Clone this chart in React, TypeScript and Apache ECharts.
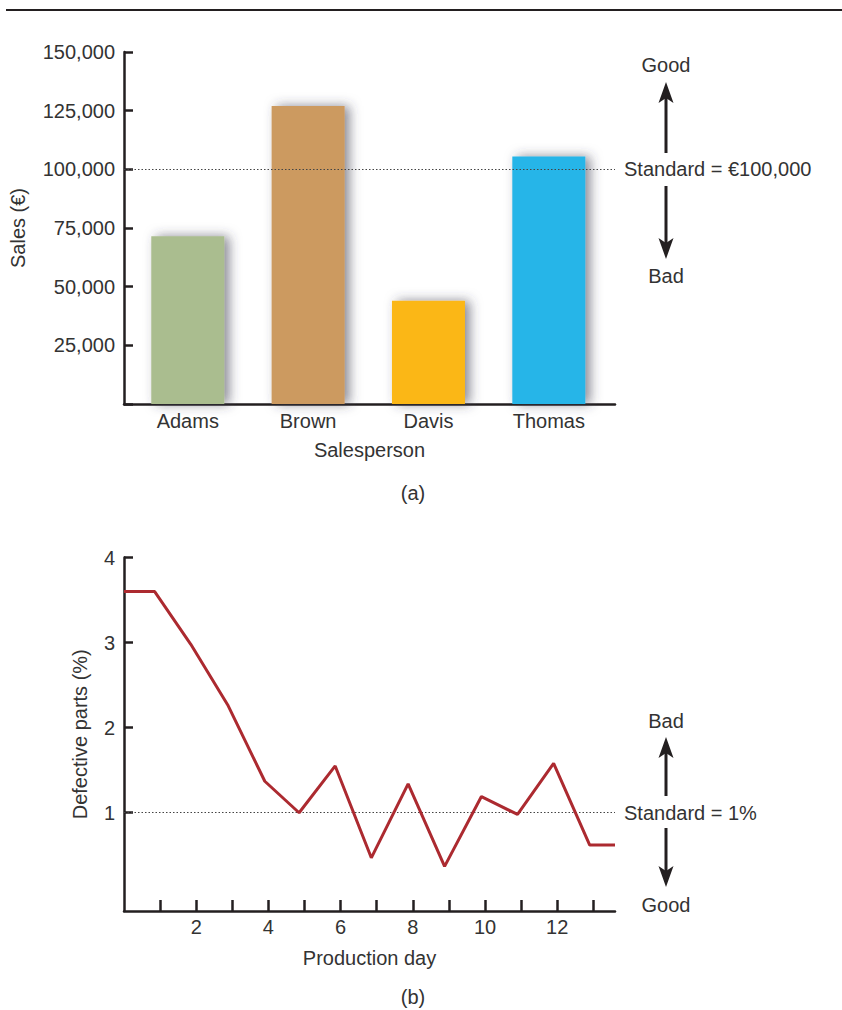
import React, { useEffect, useRef } from "react";
import * as echarts from "echarts";

// ---- Chart (a) data ----
const salespeople = ["Adams", "Brown", "Davis", "Thomas"];
const salesValues = [71500, 127000, 44000, 105500];
const barColors = ["#aabd8f", "#cc9a60", "#fbb717", "#26b5e8"];
const salesStandard = 100000;
const salesStandardLabel = "Standard = €100,000";

// ---- Chart (b) data ----
const productionDays = [0, 0.85, 1.85, 2.87, 3.9, 4.85, 5.85, 6.85, 7.87, 8.88, 9.9, 10.9, 11.9, 12.9, 13.6];
const defectivePct = [3.6, 3.6, 2.98, 2.27, 1.37, 1.0, 1.55, 0.47, 1.34, 0.37, 1.19, 0.98, 1.58, 0.62, 0.62];
const defectTicks = [1, 2, 3, 4];
const dayTicks = [1, 2, 3, 4, 5, 6, 7, 8, 9, 10, 11, 12, 13];
const dayLabels = [2, 4, 6, 8, 10, 12];
const defectStandard = 1;
const defectStandardLabel = "Standard = 1%";

const FONT = "'Liberation Sans', Arial, sans-serif";
const TEXT = "#333333";
const AXIS = "#231f20";

function arrow(x: number, y1: number, y2: number) {
  const dir = y2 < y1 ? -1 : 1;
  const headLen = 21;
  const halfW = 7.5;
  const notch = 5;
  const back = y2 - dir * headLen;
  return [
    {
      type: "line",
      shape: { x1: x, y1: y1, x2: x, y2: y2 - dir * (headLen - notch - 1) },
      style: { stroke: AXIS, lineWidth: 3 },
    },
    {
      type: "polygon",
      shape: {
        points: [
          [x, y2],
          [x + halfW, back],
          [x, back + dir * notch],
          [x - halfW, back],
        ],
      },
      style: { fill: AXIS },
    },
  ];
}

function txt(x: number, y: number, text: string, align = "center") {
  return {
    type: "text",
    x,
    y,
    style: {
      text,
      fill: TEXT,
      font: `20px ${FONT}`,
      textAlign: align,
      textVerticalAlign: "middle",
    },
  };
}

export default function App() {
  const ref = useRef<HTMLDivElement>(null);
  useEffect(() => {
    document.body.style.margin = "0";
    const chart = echarts.init(ref.current!, null, { renderer: "svg" });
    const axisLabelStyle = { color: TEXT, fontSize: 20, fontFamily: FONT };
    const nameStyle = { color: TEXT, fontSize: 20, fontFamily: FONT };
    const axisLine = { show: true, onZero: false, lineStyle: { color: AXIS, width: 2.5 } };

    chart.setOption({
      animation: false,
      backgroundColor: "#ffffff",
      grid: [
        { left: 124, top: 52, width: 491, height: 352 },
        { left: 124, top: 557.5, width: 491, height: 353.5 },
      ],
      xAxis: [
        {
          gridIndex: 0,
          type: "value",
          min: 0.47,
          max: 4.55,
          axisLine,
          axisTick: { show: false },
          splitLine: { show: false },
          axisLabel: {
            ...axisLabelStyle,
            margin: 7,
            customValues: [1, 2, 3, 4],
            formatter: (v: number) => salespeople[Math.round(v) - 1] ?? "",
          },
          name: "Salesperson",
          nameLocation: "middle",
          nameGap: 36,
          nameTextStyle: nameStyle,
        },
        {
          gridIndex: 1,
          type: "value",
          min: 0,
          max: 13.6,
          axisLine,
          axisTick: {
            show: true,
            inside: true,
            length: 11,
            customValues: dayTicks,
            lineStyle: { color: AXIS, width: 2.5 },
          },
          splitLine: { show: false },
          axisLabel: {
            ...axisLabelStyle,
            margin: 6,
            customValues: dayLabels,
          },
          name: "Production day",
          nameLocation: "middle",
          nameGap: 37,
          nameTextStyle: nameStyle,
        },
      ],
      yAxis: [
        {
          gridIndex: 0,
          type: "value",
          min: 0,
          max: 150000,
          interval: 25000,
          axisLine,
          axisTick: { show: true, inside: true, length: 9, lineStyle: { color: AXIS, width: 2.5 } },
          splitLine: { show: false },
          axisLabel: {
            ...axisLabelStyle,
            margin: 9,
            formatter: (v: number) => (v === 0 ? "" : v.toLocaleString("en-US")),
          },
          name: "Sales (€)",
          nameLocation: "middle",
          nameGap: 96,
          nameTextStyle: nameStyle,
        },
        {
          gridIndex: 1,
          type: "value",
          min: -0.155,
          max: 4,
          axisLine,
          axisTick: {
            show: true,
            inside: true,
            length: 9,
            customValues: defectTicks,
            lineStyle: { color: AXIS, width: 2.5 },
          },
          splitLine: { show: false },
          axisLabel: {
            ...axisLabelStyle,
            margin: 9,
            customValues: defectTicks,
          },
          name: "Defective parts (%)",
          nameLocation: "middle",
          nameGap: 34,
          nameTextStyle: nameStyle,
        },
      ],
      series: [
        {
          type: "bar",
          xAxisIndex: 0,
          yAxisIndex: 0,
          barWidth: 73,
          data: salesValues.map((v, i) => ({
            value: [i + 1, v],
            itemStyle: {
              color: barColors[i],
              shadowBlur: 12,
              shadowColor: "rgba(60,60,80,0.6)",
              shadowOffsetX: 5,
              shadowOffsetY: 0,
            },
          })),
          markLine: {
            silent: true,
            symbol: ["none", "none"],
            label: { show: false },
            lineStyle: { type: [1.5, 2], color: "#444", width: 1 },
            data: [{ yAxis: salesStandard }],
          },
        },
        {
          type: "line",
          xAxisIndex: 1,
          yAxisIndex: 1,
          symbol: "none",
          lineStyle: { color: "#ac2a30", width: 3 },
          data: productionDays.map((d, i) => [d, defectivePct[i]]),
          z: 3,
          markLine: {
            silent: true,
            symbol: ["none", "none"],
            label: { show: false },
            lineStyle: { type: [1.5, 2], color: "#444", width: 1 },
            data: [{ yAxis: defectStandard }],
            z: 1,
          },
        },
      ],
      graphic: [
        {
          type: "line",
          shape: { x1: 6, y1: 10, x2: 842, y2: 10 },
          style: { stroke: AXIS, lineWidth: 2 },
        },
        txt(413, 493, "(a)"),
        txt(413, 997, "(b)"),
        txt(666, 65, "Good"),
        ...arrow(666, 153, 82),
        txt(624, 169, salesStandardLabel, "left"),
        ...arrow(666, 186, 259),
        txt(666, 276, "Bad"),
        txt(666, 721, "Bad"),
        ...arrow(666, 796, 737),
        txt(624, 813, defectStandardLabel, "left"),
        ...arrow(666, 828, 887),
        txt(666, 905, "Good"),
      ],
    });
    return () => chart.dispose();
  }, []);
  return <div ref={ref} style={{ width: 842, height: 1010 }} />;
}
